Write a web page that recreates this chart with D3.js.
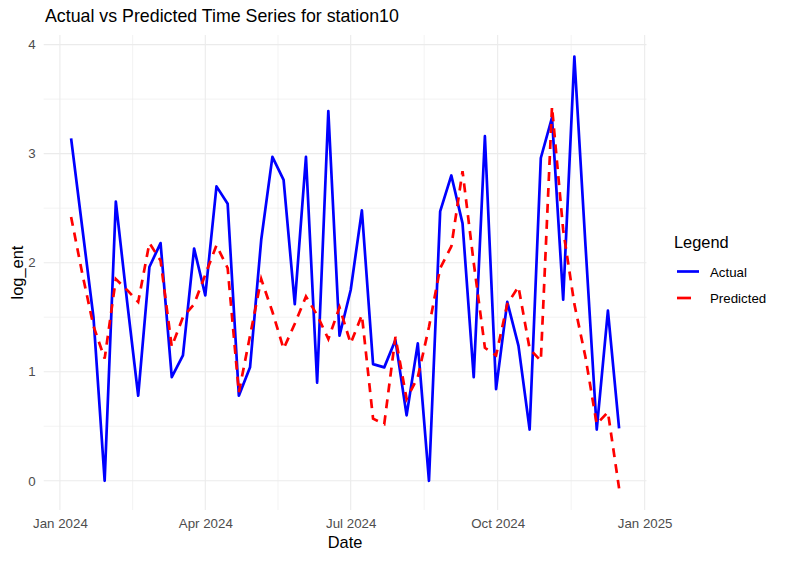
<!DOCTYPE html>
<html>
<head>
<meta charset="utf-8">
<script src="https://cdn.jsdelivr.net/npm/d3@7"></script>
<style>
body { margin: 0; background: #fff; }
text { font-family: "Liberation Sans", Arial, Helvetica, sans-serif; }
</style>
</head>
<body>
<svg width="786" height="561"></svg>
<script>
// weekly series, first week starts on this date
const startDate = "2024-01-08";

const actual = [3.14, 2.32, 1.50, 0.00, 2.56, 1.65, 0.78, 1.96, 2.18, 0.95,
                1.15, 2.13, 1.70, 2.70, 2.54, 0.78, 1.04, 2.21, 2.97, 2.76,
                1.62, 2.97, 0.90, 3.39, 1.33, 1.75, 2.48, 1.07, 1.04, 1.29,
                0.60, 1.26, 0.00, 2.47, 2.80, 2.36, 0.95, 3.16, 0.84, 1.64,
                1.24, 0.47, 2.96, 3.33, 1.66, 3.89, 2.15, 0.47, 1.56, 0.48];

const predicted = [2.42, 1.90, 1.42, 1.12, 1.85, 1.75, 1.64, 2.18, 2.02, 1.23,
                   1.50, 1.62, 1.89, 2.16, 1.95, 0.81, 1.33, 1.85, 1.55, 1.21,
                   1.44, 1.69, 1.52, 1.30, 1.59, 1.26, 1.52, 0.57, 0.52, 1.32,
                   0.75, 0.95, 1.41, 1.95, 2.15, 2.84, 2.00, 1.22, 1.15, 1.62,
                   1.78, 1.21, 1.10, 3.43, 2.30, 1.62, 1.13, 0.52, 0.63, -0.07];

const xTicks = ["2024-01-01", "2024-04-01", "2024-07-01", "2024-10-01", "2025-01-01"];
const yTicks = [0, 1, 2, 3, 4];
const seriesNames = ["Actual", "Predicted"];

let svg = d3.select("svg"),
    width = +svg.attr("width"),
    height = +svg.attr("height");

// panel box
let pLeft = 43.7, pRight = 646.5, pTop = 35, pBottom = 510;

let parse = d3.timeParse("%Y-%m-%d");
let start = parse(startDate);
let dates = actual.map((d, i) => d3.timeDay.offset(start, 7 * i));

let rows = actual.map((d, i) => ({date: dates[i], actual: d, predicted: predicted[i]}));

// ggplot style 5% expansion
let xExt = d3.extent(dates);
let xPad = (xExt[1] - xExt[0]) * 0.05;
let x = d3.scaleTime()
    .domain([new Date(+xExt[0] - xPad), new Date(+xExt[1] + xPad)])
    .range([pLeft, pRight]);

let yExt = d3.extent(actual.concat(predicted));
let yPad = (yExt[1] - yExt[0]) * 0.05;
let y = d3.scaleLinear()
    .domain([yExt[0] - yPad, yExt[1] + yPad])
    .range([pBottom, pTop]);

let majorX = xTicks.map(parse);
let minorX = d3.pairs(majorX).map(p => new Date((+p[0] + +p[1]) / 2));
let minorY = d3.pairs(yTicks).map(p => (p[0] + p[1]) / 2);

let grid = svg.append("g");

// minor grid
grid.selectAll(".minx").data(minorX).enter().append("line")
    .attr("x1", d => x(d)).attr("x2", d => x(d))
    .attr("y1", pTop).attr("y2", pBottom)
    .attr("stroke", "#ebebeb").attr("stroke-width", 0.6);
grid.selectAll(".miny").data(minorY).enter().append("line")
    .attr("x1", pLeft).attr("x2", pRight)
    .attr("y1", d => y(d)).attr("y2", d => y(d))
    .attr("stroke", "#ebebeb").attr("stroke-width", 0.6);

// major grid
grid.selectAll(".majx").data(majorX).enter().append("line")
    .attr("x1", d => x(d)).attr("x2", d => x(d))
    .attr("y1", pTop).attr("y2", pBottom)
    .attr("stroke", "#ebebeb").attr("stroke-width", 1.1);
grid.selectAll(".majy").data(yTicks).enter().append("line")
    .attr("x1", pLeft).attr("x2", pRight)
    .attr("y1", d => y(d)).attr("y2", d => y(d))
    .attr("stroke", "#ebebeb").attr("stroke-width", 1.1);

// axes (text only, like theme_minimal)
let fmt = d3.timeFormat("%b %Y");
let xAxis = svg.append("g")
    .attr("transform", `translate(0,${pBottom})`)
    .call(d3.axisBottom(x).tickValues(majorX).tickFormat(fmt).tickSize(0).tickPadding(9));
let yAxis = svg.append("g")
    .attr("transform", `translate(${pLeft},0)`)
    .call(d3.axisLeft(y).tickValues(yTicks).tickFormat(d3.format("d")).tickSize(0).tickPadding(8));

[xAxis, yAxis].forEach(a => {
    a.select(".domain").remove();
    a.selectAll("text")
        .style("font-family", '"Liberation Sans", Arial, sans-serif')
        .style("font-size", "13.3px")
        .attr("fill", "#4d4d4d");
});

// lines
let lineA = d3.line().x(d => x(d.date)).y(d => y(d.actual));
let lineP = d3.line().x(d => x(d.date)).y(d => y(d.predicted));

svg.append("path")
    .datum(rows)
    .attr("d", lineA)
    .attr("fill", "none")
    .attr("stroke", "blue")
    .attr("stroke-width", 2.7)
    .attr("stroke-linejoin", "round");

svg.append("path")
    .datum(rows)
    .attr("d", lineP)
    .attr("fill", "none")
    .attr("stroke", "red")
    .attr("stroke-width", 2.7)
    .attr("stroke-dasharray", "9,7");

// titles
svg.append("text")
    .attr("x", 45).attr("y", 22)
    .style("font-size", "17.8px")
    .attr("fill", "#000")
    .text("Actual vs Predicted Time Series for station10");

svg.append("text")
    .attr("x", (pLeft + pRight) / 2).attr("y", 548)
    .attr("text-anchor", "middle")
    .style("font-size", "16.4px")
    .text("Date");

svg.append("text")
    .attr("transform", `translate(23,${(pTop + pBottom) / 2}) rotate(-90)`)
    .attr("text-anchor", "middle")
    .style("font-size", "16.4px")
    .text("log_ent");

// legend
let legend = svg.append("g").attr("transform", "translate(674,0)");
legend.append("text")
    .attr("x", 0).attr("y", 248)
    .style("font-size", "16.4px")
    .text("Legend");

let keys = legend.selectAll(".key").data(seriesNames).enter().append("g")
    .attr("transform", (d, i) => `translate(0,${271.5 + i * 26.5})`);

keys.append("line")
    .attr("x1", 3).attr("x2", 25)
    .attr("stroke", (d, i) => i == 0 ? "blue" : "red")
    .attr("stroke-width", 2.7)
    .attr("stroke-dasharray", (d, i) => i == 0 ? null : "14,8");

keys.append("text")
    .attr("x", 36).attr("y", 5)
    .style("font-size", "13.3px")
    .attr("fill", "#000")
    .text(d => d);
</script>
</body>
</html>
